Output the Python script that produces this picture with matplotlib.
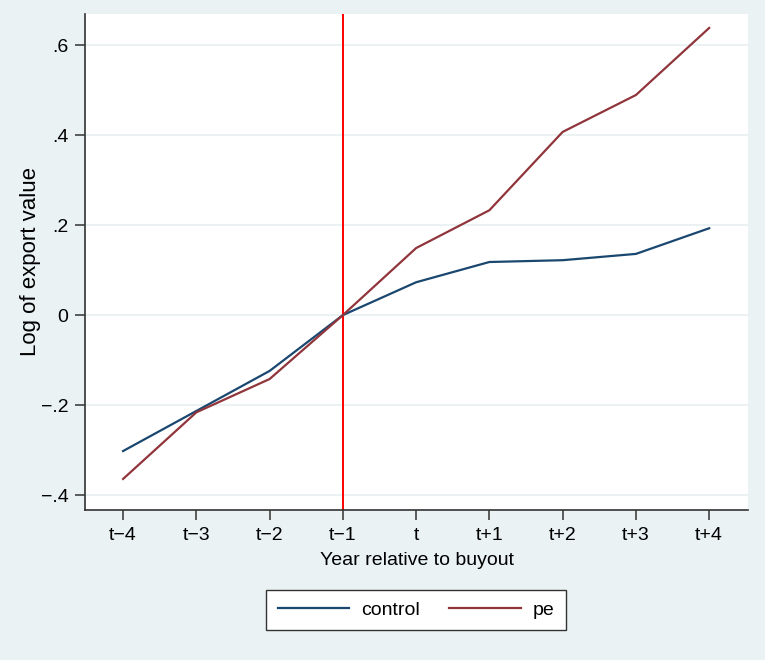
import matplotlib
matplotlib.use("Agg")
import matplotlib.pyplot as plt
import numpy as np

plt.rcParams['font.family'] = ['Liberation Sans', 'DejaVu Sans']

years = ["t\u22124", "t\u22123", "t\u22122", "t\u22121", "t", "t+1", "t+2", "t+3", "t+4"]
control = [-0.302, -0.213, -0.124, 0.0, 0.073, 0.118, 0.122, 0.136, 0.193]
pe = [-0.364, -0.216, -0.142, 0.0, 0.149, 0.233, 0.407, 0.489, 0.638]
yticks = [-0.4, -0.2, 0.0, 0.2, 0.4, 0.6]
ytick_labels = ["\u2212.4", "\u2212.2", "0", ".2", ".4", ".6"]

BG = "#eaf2f3"

fig = plt.figure(figsize=(7.65, 6.6), dpi=100, facecolor=BG)
ax = fig.add_axes([85 / 765, 150 / 660, 663 / 765, 496 / 660])
ax.set_facecolor("white")

x = np.arange(len(years))
ax.axvline(3, color="#ff0000", lw=1.4, zorder=1)
ax.plot(x, control, color="#1a476f", lw=1.6, label="control", zorder=3)
ax.plot(x, pe, color="#90353b", lw=1.6, label="pe", zorder=3)

ax.set_xlim(-0.52, 8.53)
ax.set_ylim(-0.433, 0.669)
ax.set_xticks(x)
ax.set_xticklabels(years)
ax.set_yticks(yticks)
ax.set_yticklabels(ytick_labels)
ax.grid(axis="y", color=BG, lw=1.4, zorder=0)
ax.set_axisbelow(True)

for side in ["top", "right"]:
    ax.spines[side].set_visible(False)
for side in ["left", "bottom"]:
    ax.spines[side].set_color("#333333")
    ax.spines[side].set_linewidth(1.2)
ax.tick_params(direction="out", length=7, width=1.1, color="#333333",
               labelsize=14, pad=5)

ax.set_xlabel("Year relative to buyout", fontsize=14, labelpad=6)
ax.set_ylabel("Log of export value", fontsize=16, labelpad=-0.5)

leg = fig.legend(loc="center", bbox_to_anchor=(416 / 765, 1 - 610 / 660), ncol=2,
                 fontsize=14, frameon=True, fancybox=False, edgecolor="#333333",
                 facecolor="white", framealpha=1, handlelength=3.7,
                 handletextpad=0.6, columnspacing=1.5, borderpad=0.6)
leg.get_frame().set_linewidth(1.0)

fig.savefig("out.png", dpi=100, facecolor=BG)
